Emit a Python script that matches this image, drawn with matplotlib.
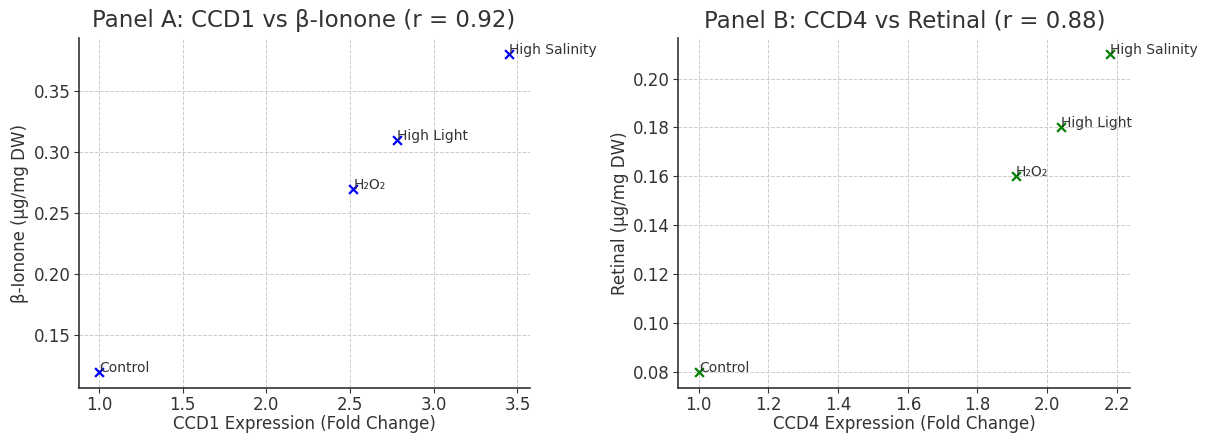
import matplotlib
matplotlib.use("Agg")
import matplotlib.pyplot as plt
from matplotlib.ticker import MultipleLocator

# Panel A data
conditions = ["Control", "H\u2082O\u2082", "High Light", "High Salinity"]
ccd1_expr = [1.0, 2.52, 2.78, 3.45]
beta_ionone = [0.12, 0.27, 0.31, 0.38]

# Panel B data
ccd4_expr = [1.0, 1.91, 2.04, 2.18]
retinal = [0.08, 0.16, 0.18, 0.21]

TEXT = "#333333"

fig = plt.figure(figsize=(12.09, 4.34), dpi=100)
ax1 = fig.add_axes([0.065, 0.106, 0.438 - 0.065, 0.806])
ax2 = fig.add_axes([0.561, 0.106, 0.935 - 0.561, 0.806])


def draw_panel(ax, x, y, color, title, xlabel, ylabel):
    ax.scatter(x, y, marker="x", color=color, s=40, linewidths=1.6, zorder=3)
    for xi, yi, lab in zip(x, y, conditions):
        ax.text(xi, yi, lab, fontsize=10, color=TEXT)
    ax.set_title(title, fontsize=16.5, color=TEXT, pad=8)
    ax.set_xlabel(xlabel, fontsize=12, color=TEXT, labelpad=0.5)
    ax.set_ylabel(ylabel, fontsize=12, color=TEXT, labelpad=3)
    ax.grid(True, linestyle="--", color="#cccccc", linewidth=0.7)
    ax.set_axisbelow(True)
    for side in ["top", "right"]:
        ax.spines[side].set_visible(False)
    for side in ["left", "bottom"]:
        ax.spines[side].set_color(TEXT)
        ax.spines[side].set_linewidth(1.2)
    ax.tick_params(labelsize=12, colors=TEXT, pad=2.5)


draw_panel(ax1, ccd1_expr, beta_ionone, "blue",
           "Panel A: CCD1 vs \u03b2-Ionone (r = 0.92)",
           "CCD1 Expression (Fold Change)", "\u03b2-Ionone (\u00b5g/mg DW)")
ax1.xaxis.set_major_locator(MultipleLocator(0.5))
draw_panel(ax2, ccd4_expr, retinal, "green",
           "Panel B: CCD4 vs Retinal (r = 0.88)",
           "CCD4 Expression (Fold Change)", "Retinal (\u00b5g/mg DW)")

fig.savefig("out.png", dpi=100)
